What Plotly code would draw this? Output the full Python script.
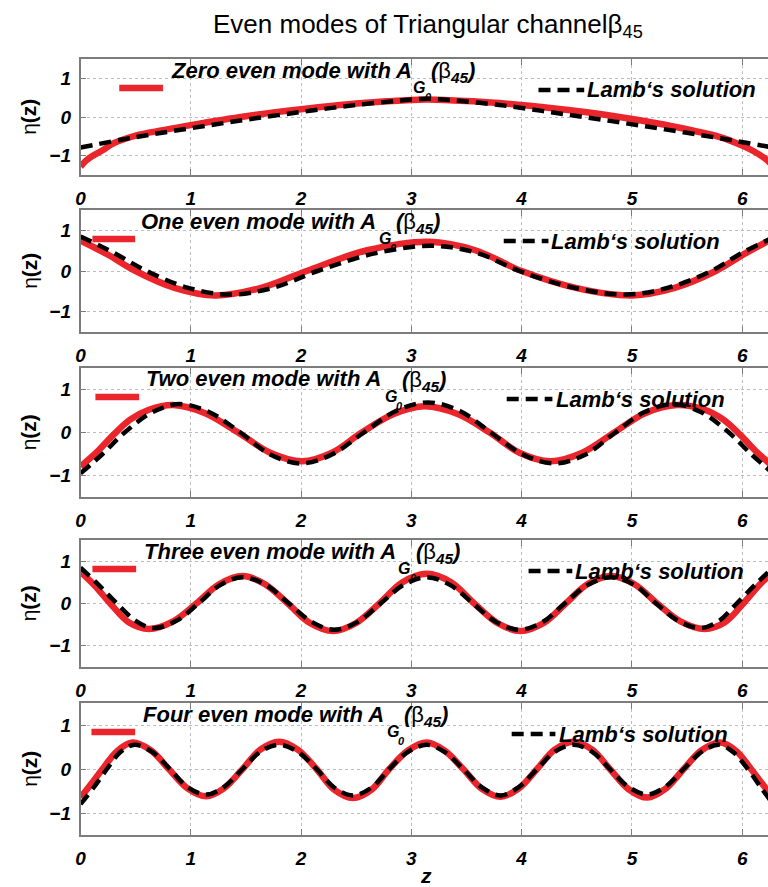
import plotly.graph_objects as go

# ------------------------------------------------------------------
# Free-surface elevation eta(z) across a 45 degree triangular channel
# ------------------------------------------------------------------

# Zero even mode
zero_red_z = [0.00, 0.05, 0.10, 0.20, 0.30, 0.50, 0.75, 1.00, 1.50, 2.00, 2.50, 3.00, 3.14,
              3.30, 3.80, 4.30, 4.80, 5.30, 5.55, 5.80, 6.00, 6.10, 6.20, 6.25, 6.28]
zero_red_eta = [-1.28, -1.13, -1.02, -0.86, -0.68, -0.48, -0.34, -0.21, 0.02, 0.20, 0.35, 0.44, 0.45,
                0.44, 0.36, 0.22, 0.04, -0.20, -0.35, -0.52, -0.74, -0.88, -1.06, -1.18, -1.28]
zero_lamb_z = [0.00, 0.50, 1.00, 1.50, 2.00, 2.50, 3.00, 3.14, 3.30, 3.80, 4.30, 4.80, 5.30, 5.80, 6.28]
zero_lamb_eta = [-0.79, -0.52, -0.29, -0.07, 0.13, 0.31, 0.45, 0.47, 0.45, 0.31, 0.11, -0.10, -0.32, -0.55, -0.79]

# One even mode
one_red_z = [0.00, 0.25, 0.50, 0.86, 1.22, 1.63, 2.05, 2.60, 3.16, 3.58, 4.00, 4.50, 5.00,
             5.38, 5.76, 6.02, 6.28]
one_red_eta = [0.75, 0.40, 0.00, -0.42, -0.60, -0.42, 0.00, 0.51, 0.72, 0.51, 0.00, -0.42, -0.60,
               -0.42, 0.00, 0.42, 0.80]
one_lamb_z = [0.00, 0.30, 0.60, 0.97, 1.35, 1.75, 2.15, 2.68, 3.20, 3.60, 3.98, 4.47, 4.95,
              5.33, 5.72, 6.00, 6.28]
one_lamb_eta = [0.85, 0.45, 0.00, -0.41, -0.58, -0.41, 0.00, 0.44, 0.62, 0.44, 0.00, -0.41, -0.58,
                -0.41, 0.00, 0.45, 0.82]

# Two even mode
two_red_z = [0.00, 0.15, 0.30, 0.45, 0.62, 0.84, 1.13, 1.43, 1.72, 2.01, 2.28, 2.55, 2.84, 3.12,
             3.42, 3.71, 3.98, 4.26, 4.55, 4.84, 5.12, 5.41, 5.66, 5.83, 5.98, 6.13, 6.28]
two_red_eta = [-0.79, -0.45, -0.05, 0.30, 0.53, 0.64, 0.45, 0.00, -0.47, -0.67, -0.47, 0.00, 0.43, 0.61,
               0.43, 0.00, -0.47, -0.67, -0.47, 0.00, 0.45, 0.64, 0.53, 0.30, -0.05, -0.45, -0.79]
two_lamb_z = [0.00, 0.20, 0.40, 0.65, 0.90, 1.17, 1.45, 1.72, 2.00, 2.28, 2.57, 2.86, 3.15,
              3.44, 3.72, 4.01, 4.30, 4.58, 4.85, 5.11, 5.38, 5.63, 5.88, 6.08, 6.28]
two_lamb_eta = [-0.95, -0.50, 0.00, 0.47, 0.66, 0.47, 0.00, -0.51, -0.72, -0.51, 0.00, 0.50, 0.70,
                0.50, 0.00, -0.51, -0.72, -0.51, 0.00, 0.47, 0.66, 0.47, 0.00, -0.50, -0.95]

# Three even mode
three_red_z = [0.00, 0.13, 0.27, 0.44, 0.62, 0.84, 1.05, 1.26, 1.47, 1.67, 1.88, 2.08, 2.29,
               2.50, 2.71, 2.92, 3.14, 3.36, 3.57, 3.78, 3.99, 4.20, 4.40, 4.60, 4.81, 5.02,
               5.23, 5.44, 5.66, 5.84, 6.01, 6.15, 6.28]
three_red_eta = [0.75, 0.42, 0.00, -0.45, -0.60, -0.42, 0.00, 0.46, 0.65, 0.46, 0.00, -0.46, -0.65,
                 -0.46, 0.00, 0.50, 0.70, 0.50, 0.00, -0.46, -0.65, -0.46, 0.00, 0.46, 0.65, 0.46,
                 0.00, -0.42, -0.60, -0.45, 0.00, 0.42, 0.75]
three_lamb_z = [0.00, 0.16, 0.33, 0.50, 0.66, 0.87, 1.07, 1.27, 1.47, 1.68, 1.89, 2.10, 2.30,
                2.51, 2.72, 2.93, 3.14, 3.35, 3.56, 3.77, 3.98, 4.19, 4.39, 4.60, 4.81, 5.02,
                5.22, 5.42, 5.62, 5.79, 5.95, 6.12, 6.28]
three_lamb_eta = [0.85, 0.45, 0.00, -0.41, -0.58, -0.41, 0.00, 0.44, 0.62, 0.44, 0.00, -0.44, -0.62,
                  -0.44, 0.00, 0.44, 0.62, 0.44, 0.00, -0.44, -0.62, -0.44, 0.00, 0.44, 0.62, 0.44,
                  0.00, -0.41, -0.58, -0.41, 0.00, 0.45, 0.85]

# Four even mode
four_red_z = [0.00, 0.10, 0.20, 0.33, 0.47, 0.64, 0.80, 0.97, 1.14, 1.30, 1.47, 1.63, 1.80, 1.97,
              2.14, 2.30, 2.47, 2.64, 2.80, 2.97, 3.14, 3.30, 3.47, 3.64, 3.81, 3.97, 4.14, 4.30,
              4.47, 4.64, 4.80, 4.97, 5.14, 5.30, 5.47, 5.63, 5.80, 5.95, 6.08, 6.18, 6.28]
four_red_eta = [-0.65, -0.33, 0.00, 0.40, 0.60, 0.42, 0.00, -0.44, -0.62, -0.44, 0.00, 0.44, 0.62, 0.44,
                0.00, -0.47, -0.66, -0.47, 0.00, 0.42, 0.60, 0.42, 0.00, -0.45, -0.63, -0.45, 0.00, 0.44,
                0.62, 0.44, 0.00, -0.46, -0.65, -0.46, 0.00, 0.42, 0.60, 0.40, 0.00, -0.33, -0.65]
four_lamb_z = [0.00, 0.12, 0.24, 0.36, 0.49, 0.65, 0.81, 0.97, 1.14, 1.30, 1.47, 1.63, 1.80, 1.97,
               2.14, 2.30, 2.47, 2.64, 2.80, 2.97, 3.14, 3.30, 3.47, 3.64, 3.81, 3.97, 4.14, 4.30,
               4.47, 4.64, 4.80, 4.97, 5.14, 5.30, 5.47, 5.63, 5.79, 5.92, 6.05, 6.17, 6.28]
four_lamb_eta = [-0.80, -0.42, 0.00, 0.38, 0.55, 0.39, 0.00, -0.41, -0.58, -0.41, 0.00, 0.39, 0.55, 0.39,
                 0.00, -0.42, -0.60, -0.42, 0.00, 0.39, 0.55, 0.39, 0.00, -0.42, -0.60, -0.42, 0.00, 0.39,
                 0.55, 0.39, 0.00, -0.41, -0.58, -0.41, 0.00, 0.39, 0.55, 0.38, 0.00, -0.42, -0.80]

mode_names = ["Zero", "One", "Two", "Three", "Four"]
z_ticks = [0, 1, 2, 3, 4, 5, 6]
eta_ticks = [-1, 0, 1]

red_curves = [(zero_red_z, zero_red_eta), (one_red_z, one_red_eta), (two_red_z, two_red_eta),
              (three_red_z, three_red_eta), (four_red_z, four_red_eta)]
lamb_curves = [(zero_lamb_z, zero_lamb_eta), (one_lamb_z, one_lamb_eta), (two_lamb_z, two_lamb_eta),
               (three_lamb_z, three_lamb_eta), (four_lamb_z, four_lamb_eta)]

# ------------------------------------------------------------------
# Page geometry (pixels)
# ------------------------------------------------------------------
W, H = 768, 887
PLOT_LEFT = 76
Z_RIGHT = 6.234
PANEL_BOXES = [(59, 175), (210, 332), (368, 497), (540, 667), (703, 835)]
# per panel: red key x0, x1, label x, dashed key x0, x1, label x
KEY_POS = [(115, 159, 166, 537, 583, 585),
           (88, 131, 136, 502, 547, 549),
           (91, 135, 141, 505, 551, 554),
           (88, 132, 139, 527, 571, 573),
           (87, 131, 138, 510, 554, 557)]

RED = "#EA262C"
FRAME = "#7c7c7c"
GRID = "#bdbdbd"
FONT = "Liberation Sans, Arial, sans-serif"
DASH = "12px,7px"
LABEL_SIZE = 22
SUB_SIZE = 16

# Arial/Liberation Sans Bold advance widths (1/1000 em) for label layout
BOLD_W = {' ': 278, 'A': 722, 'F': 611, 'G': 778, 'O': 778, 'T': 611, 'Z': 611,
          'a': 556, 'd': 611, 'e': 556, 'h': 611, 'i': 278, 'm': 889, 'n': 611,
          'o': 611, 'r': 389, 't': 333, 'u': 611, 'v': 556, 'w': 778}


def text_w(s, size):
    return sum(BOLD_W.get(c, 556) for c in s) * size / 1000.0


def fx(px):
    return px / W


def fy(py):
    return 1 - py / H


fig = go.Figure()
layout = dict(width=W, height=H, margin=dict(l=0, r=0, t=0, b=0),
              paper_bgcolor="white", plot_bgcolor="white", showlegend=False)
annotations = []
shapes = []

tick_font = dict(family=FONT, size=19, color="black", weight="bold", style="italic")
label_font = dict(family=FONT, size=LABEL_SIZE, color="black", weight="bold", style="italic")


def note(px, py, text, font, xanchor="left", **kw):
    annotations.append(dict(x=fx(px), y=fy(py), xref="paper", yref="paper", text=text,
                            showarrow=False, xanchor=xanchor, yanchor="middle",
                            borderpad=0, font=font, **kw))


for i, (top, bot) in enumerate(PANEL_BOXES):
    n = "" if i == 0 else str(i + 1)
    xa, ya = "x" + n, "y" + n
    layout["xaxis" + n] = dict(
        domain=[fx(PLOT_LEFT), 1.0], range=[0, Z_RIGHT], anchor=ya,
        tickvals=z_ticks, ticks="inside", ticklen=6, tickwidth=1, tickcolor=FRAME,
        showline=True, linecolor=FRAME, linewidth=1.5, mirror="ticks",
        showgrid=True, gridcolor=GRID, griddash="dot", gridwidth=1,
        zeroline=False, tickfont=tick_font, ticklabelstandoff=5, fixedrange=True)
    layout["yaxis" + n] = dict(
        domain=[fy(bot), fy(top)], range=[-1.5, 1.5], anchor=xa,
        tickvals=eta_ticks, ticks="inside", ticklen=6, tickwidth=1, tickcolor=FRAME,
        showline=True, linecolor=FRAME, linewidth=1.5, mirror=False,
        showgrid=True, gridcolor=GRID, griddash="dot", gridwidth=1,
        zeroline=False, tickfont=tick_font, ticklabelstandoff=4, fixedrange=True)

    rz, reta = red_curves[i]
    lz, leta = lamb_curves[i]
    fig.add_trace(go.Scatter(x=rz, y=reta, xaxis=xa, yaxis=ya, mode="lines",
                             line=dict(color=RED, width=6.5, shape="spline", smoothing=1.0)))
    fig.add_trace(go.Scatter(x=lz, y=leta, xaxis=xa, yaxis=ya, mode="lines",
                             line=dict(color="black", width=4.5, dash=DASH,
                                       shape="spline", smoothing=1.0)))

    # y-axis title
    note(24, (top + bot) / 2, "η<b>(z)</b>", dict(family=FONT, size=21, color="black"),
         xanchor="center", textangle=-90)

    # key for the red curve
    rx0, rx1, rlab, lx0, lx1, llab = KEY_POS[i]
    shapes.append(dict(type="line", xref="paper", yref="paper",
                       x0=fx(rx0), x1=fx(rx1), y0=fy(top + 29), y1=fy(top + 29),
                       line=dict(color=RED, width=6.5)))
    main = f"{mode_names[i]} even mode with A"
    note(rlab, top + 11, main, label_font)
    g_x = rlab + text_w(main, LABEL_SIZE) + 3
    g_w = text_w("G", SUB_SIZE)
    note(g_x, top + 28, "G",
         dict(family=FONT, size=SUB_SIZE, color="black", weight="bold", style="italic"))
    note(g_x + g_w - 1, top + 38, "0",
         dict(family=FONT, size=11, color="black", weight="bold", style="italic"))
    note(g_x + g_w + 5, top + 13,
         "(<span style='font-weight:normal;font-style:normal'>β</span><sub>45</sub>)",
         label_font)

    # key for Lamb's solution
    shapes.append(dict(type="line", xref="paper", yref="paper",
                       x0=fx(lx0), x1=fx(lx1), y0=fy(top + 31), y1=fy(top + 31),
                       line=dict(color="black", width=4.5, dash=DASH)))
    note(llab, top + 31, "Lamb‘s solution", label_font)

# figure title and shared z label
note(426, 26, "Even modes of Triangular channelβ<sub>45</sub>",
     dict(family=FONT, size=26, color="black"), xanchor="center")
note(424, 875, "z", dict(family=FONT, size=21, color="black", weight="bold", style="italic"),
     xanchor="center")

layout["annotations"] = annotations
layout["shapes"] = shapes
fig.update_layout(**layout)

fig.write_html("out.html")
